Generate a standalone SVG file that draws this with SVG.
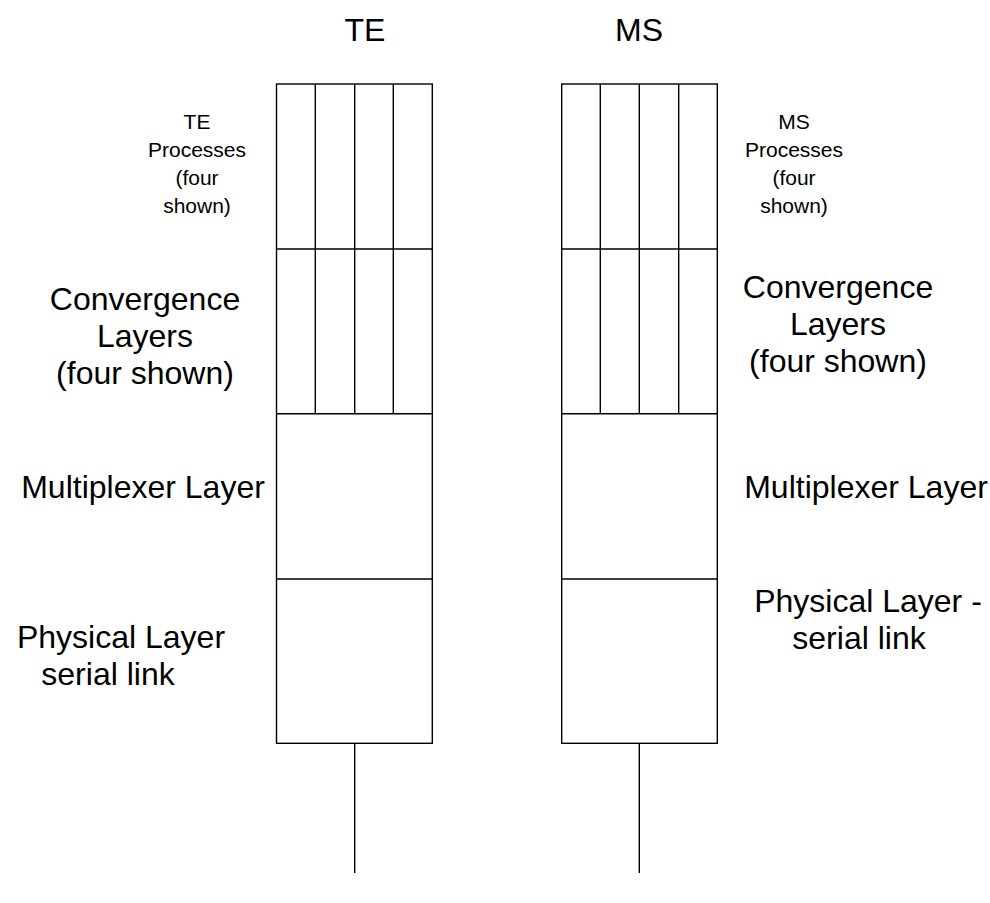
<svg xmlns="http://www.w3.org/2000/svg" width="990" height="903" viewBox="0 0 990 903">
<style>
.ln{stroke:#000;stroke-width:1.4;fill:none}
.bx{stroke:#000;stroke-width:1.4;fill:#fff}
text{font-family:"Liberation Sans",Arial,sans-serif;fill:#000}
.big{font-size:32px}
.sm{font-size:21px}
</style>
<rect width="990" height="903" fill="#fff"/>
<g id="te-stack">
<rect class="bx" x="276.5" y="84" width="155.8" height="659.3"/>
<line class="ln" x1="276.5" y1="249" x2="432.3" y2="249"/>
<line class="ln" x1="276.5" y1="413.7" x2="432.3" y2="413.7"/>
<line class="ln" x1="276.5" y1="579" x2="432.3" y2="579"/>
<line class="ln" x1="315.3" y1="84" x2="315.3" y2="413.7"/>
<line class="ln" x1="354.7" y1="84" x2="354.7" y2="413.7"/>
<line class="ln" x1="393.3" y1="84" x2="393.3" y2="413.7"/>
</g>
<g id="ms-stack">
<rect class="bx" x="561.7" y="84" width="155.6" height="659.3"/>
<line class="ln" x1="561.7" y1="249" x2="717.3" y2="249"/>
<line class="ln" x1="561.7" y1="413.7" x2="717.3" y2="413.7"/>
<line class="ln" x1="561.7" y1="579" x2="717.3" y2="579"/>
<line class="ln" x1="600.3" y1="84" x2="600.3" y2="413.7"/>
<line class="ln" x1="639.3" y1="84" x2="639.3" y2="413.7"/>
<line class="ln" x1="678.7" y1="84" x2="678.7" y2="413.7"/>
</g>
<g id="connectors">
<line class="ln" x1="354.7" y1="743.3" x2="354.7" y2="873"/>
<line class="ln" x1="639.3" y1="743.3" x2="639.3" y2="873"/>
</g>
<g id="labels-te" text-anchor="middle">
<text class="big" x="365" y="41">TE</text>
<text class="sm"><tspan x="197" y="129">TE</tspan><tspan x="197" y="157">Processes</tspan><tspan x="197" y="185">(four</tspan><tspan x="197" y="213">shown)</tspan></text>
<text class="big"><tspan x="145" y="310">Convergence</tspan><tspan x="145" y="347">Layers</tspan><tspan x="145" y="384">(four shown)</tspan></text>
<text class="big" x="143" y="498">Multiplexer Layer</text>
<text class="big"><tspan x="121" y="648">Physical Layer</tspan><tspan x="108" y="685">serial link</tspan></text>
</g>
<g id="labels-ms" text-anchor="middle">
<text class="big" x="639" y="41">MS</text>
<text class="sm"><tspan x="794" y="129">MS</tspan><tspan x="794" y="157">Processes</tspan><tspan x="794" y="185">(four</tspan><tspan x="794" y="213">shown)</tspan></text>
<text class="big"><tspan x="838" y="298">Convergence</tspan><tspan x="838" y="335">Layers</tspan><tspan x="838" y="372">(four shown)</tspan></text>
<text class="big" x="866" y="498">Multiplexer Layer</text>
<text class="big"><tspan x="868" y="612">Physical Layer -</tspan><tspan x="859" y="649">serial link</tspan></text>
</g>
</svg>
